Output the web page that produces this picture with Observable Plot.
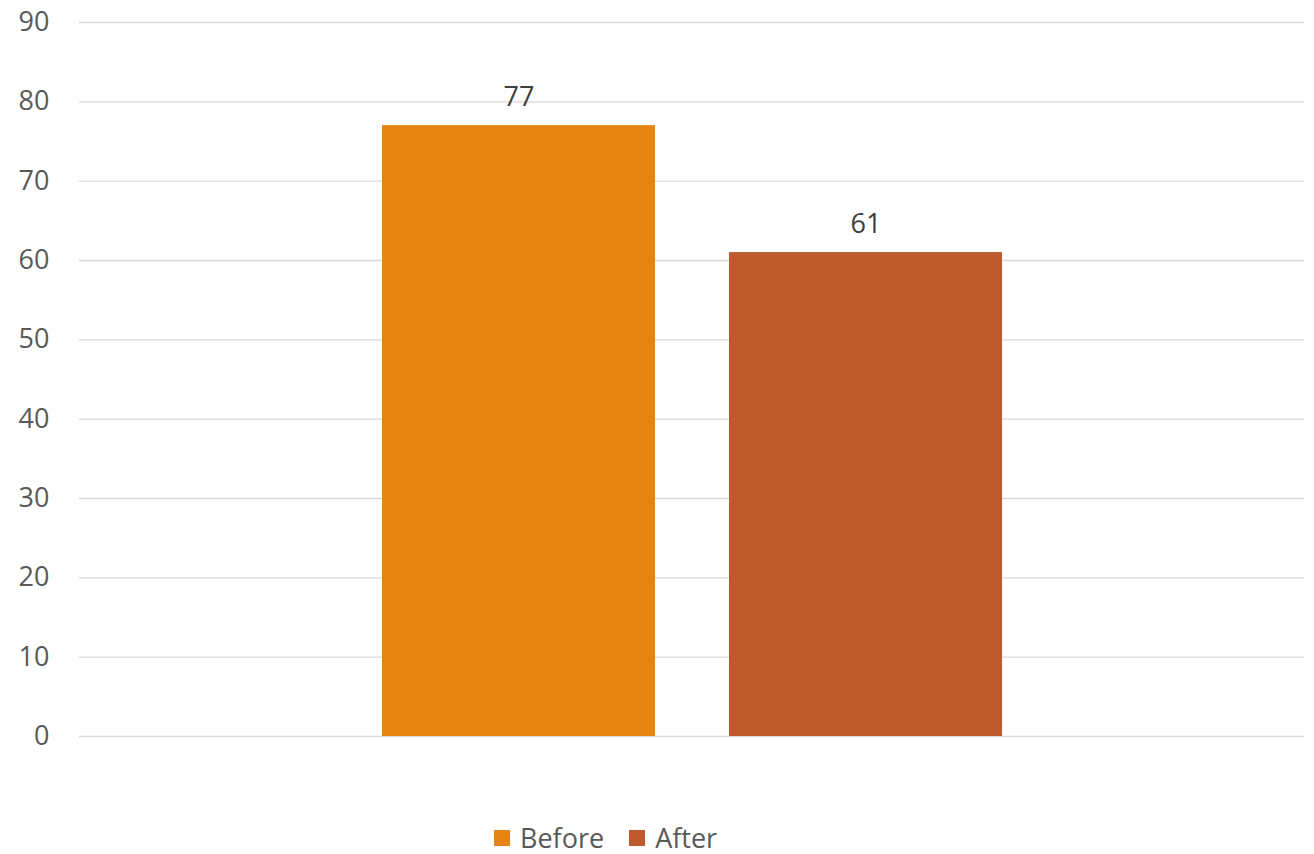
<!DOCTYPE html>
<html>
<head>
<meta charset="utf-8">
<script src="https://cdn.jsdelivr.net/npm/d3@7"></script>
<script src="https://cdn.jsdelivr.net/npm/@observablehq/plot@0.6"></script>
<style>
  body { margin: 0; background: #fff; font-family: "Open Sans", sans-serif; }
  #legend { display: flex; align-items: center; padding-left: 494px; margin-top: 49px; font-size: 27px; color: #595959; }
  .item { display: flex; align-items: center; margin-right: 25px; }
  .sw { width: 16px; height: 16px; margin-right: 10px; }
</style>
</head>
<body>
<div id="chart"></div>
<div id="legend"></div>
<script>
const categories = ["Before", "After"];
const values = [77, 61];
const colors = ["#E68413", "#BE5A2D"];
const yTicks = [0, 10, 20, 30, 40, 50, 60, 70, 80, 90];

const data = categories.map((c, i) => ({category: c, value: values[i]}));

const chart = Plot.plot({
  width: 1314,
  height: 770,
  marginLeft: 79,
  marginRight: 10,
  marginTop: 22,
  marginBottom: 34,
  style: {fontFamily: "Open Sans, sans-serif", fontSize: "27px", color: "#595959", background: "#fff"},
  x: {domain: categories, range: [381, 1003], paddingInner: 0.2126, paddingOuter: 0, axis: null},
  y: {domain: [0, 90], ticks: yTicks, label: null},
  color: {domain: categories, range: colors},
  marks: [
    Plot.ruleY(yTicks, {stroke: "#d9d9d9", strokeWidth: 1.3}),
    Plot.axisY(yTicks, {tickSize: 0, tickPadding: 30, fontSize: 27, fill: "#595959", label: null}),
    Plot.barY(data, {x: "category", y: "value", fill: "category"}),
    Plot.text(data, {x: "category", y: "value", text: d => String(d.value), dy: -28, fontSize: 27, fill: "#404040"})
  ]
});
document.getElementById("chart").appendChild(chart);

const legend = document.getElementById("legend");
categories.forEach((c, i) => {
  const item = document.createElement("div");
  item.className = "item";
  const sw = document.createElement("div");
  sw.className = "sw";
  sw.style.background = colors[i];
  const t = document.createElement("span");
  t.textContent = c;
  item.appendChild(sw);
  item.appendChild(t);
  legend.appendChild(item);
});
</script>
</body>
</html>
